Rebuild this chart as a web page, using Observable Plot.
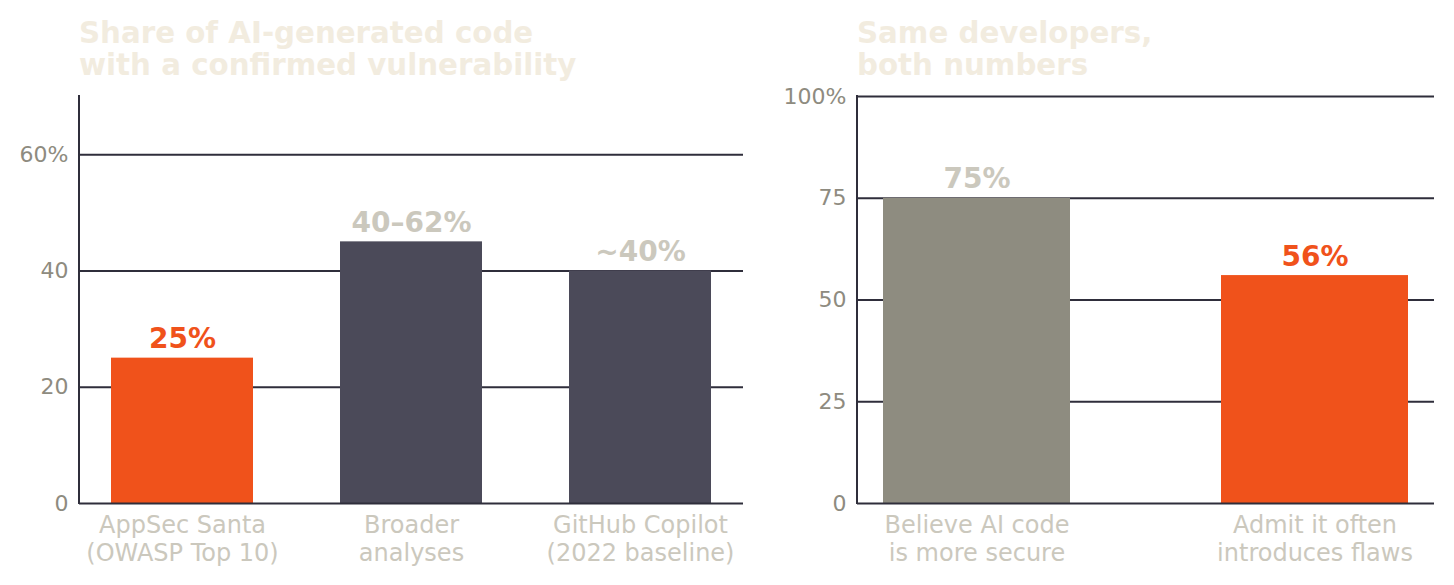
<!DOCTYPE html>
<html>
<head>
<meta charset="utf-8">
<script src="https://cdn.jsdelivr.net/npm/d3@7"></script>
<script src="https://cdn.jsdelivr.net/npm/@observablehq/plot@0.6"></script>
<style>
  html, body { margin: 0; padding: 0; background: #ffffff; }
  body { width: 1454px; height: 585px; overflow: hidden; font-family: "DejaVu Sans", sans-serif; }
  .wrap { position: relative; width: 1454px; height: 585px; }
  .panel { position: absolute; top: 0; }
  .title { font-family: "DejaVu Sans", sans-serif; font-weight: bold; font-size: 29.3px; line-height: 32px;
           color: #F2ECDF; padding-top: 17px; height: 63px; box-sizing: content-box; white-space: nowrap; }
  svg { display: block; }
</style>
</head>
<body>
<div class="wrap">
  <div class="panel" id="left" style="left:0;width:750px;">
    <div class="title" style="padding-left:79px;">Share of AI-generated code<br>with a confirmed vulnerability</div>
  </div>
  <div class="panel" id="right" style="left:750px;width:704px;">
    <div class="title" style="padding-left:107px;">Same developers,<br>both numbers</div>
  </div>
</div>
<script>
// ---- data ----
const leftCategories = ["AppSec Santa\n(OWASP Top 10)", "Broader\nanalyses", "GitHub Copilot\n(2022 baseline)"];
const leftValues = [25, 45, 40];
const leftValueLabels = ["25%", "40–62%", "~40%"];
const leftHighlight = [true, false, false];
const leftTicks = [0, 20, 40, 60];
const leftTickLabels = ["0", "20", "40", "60%"];
const leftGrid = [20, 40, 60];

const rightCategories = ["Believe AI code\nis more secure", "Admit it often\nintroduces flaws"];
const rightValues = [75, 56];
const rightValueLabels = ["75%", "56%"];
const rightHighlight = [false, true];
const rightTicks = [0, 25, 50, 75, 100];
const rightTickLabels = ["0", "25", "50", "75", "100%"];
const rightGrid = [25, 50, 75, 100];

// ---- styles ----
const ORANGE = "#F0521B";
const DARK = "#4B4A59";
const GREY = "#8E8C80";
const GRID = "#2F2E3B";
const TICK = "#8E8B80";
const LIGHT = "#CBC8BD";
const FONT = "DejaVu Sans";

function leftSpine() {
  return (index, scales, values, dimensions) => {
    const {marginLeft, marginTop, height, marginBottom} = dimensions;
    const g = document.createElementNS("http://www.w3.org/2000/svg", "line");
    g.setAttribute("x1", marginLeft); g.setAttribute("x2", marginLeft);
    g.setAttribute("y1", marginTop - 1); g.setAttribute("y2", height - marginBottom + 1);
    g.setAttribute("stroke", GRID); g.setAttribute("stroke-width", 2);
    return g;
  };
}

function makeChart(opts) {
  const rows = opts.categories.map((c, i) => ({
    cat: c, value: opts.values[i], label: opts.labels[i], hi: opts.highlight[i]
  }));
  return Plot.plot({
    width: opts.width,
    height: 505,
    marginTop: 16,
    marginBottom: 82,
    marginLeft: opts.marginLeft,
    marginRight: opts.marginRight,
    style: {fontFamily: FONT, background: "transparent", overflow: "visible"},
    x: {domain: opts.categories, paddingInner: opts.paddingInner, paddingOuter: opts.paddingOuter, label: null},
    y: {domain: opts.yDomain, label: null},
    marks: [
      Plot.ruleY(opts.grid, {stroke: GRID, strokeWidth: 2}),
      Plot.barY(rows, {x: "cat", y: "value", fill: d => d.hi ? ORANGE : opts.baseColor}),
      Plot.ruleY([0], {stroke: GRID, strokeWidth: 2}),
      leftSpine(),
      Plot.axisY({
        ticks: opts.ticks,
        tickFormat: (d) => opts.tickLabels[opts.ticks.indexOf(d)],
        tickSize: 0, tickPadding: 11, fontSize: 22, fill: TICK, label: null
      }),
      Plot.axisX({
        tickSize: 0, tickPadding: 10, fontSize: 24, fill: LIGHT, label: null, lineHeight: 1.167
      }),
      Plot.text(rows, {
        x: "cat", y: "value", text: "label", dy: -10, lineAnchor: "bottom",
        fontSize: 28, fontWeight: "bold",
        fill: d => d.hi ? ORANGE : LIGHT
      })
    ]
  });
}

document.getElementById("left").appendChild(makeChart({
  categories: leftCategories, values: leftValues, labels: leftValueLabels, highlight: leftHighlight,
  ticks: leftTicks, tickLabels: leftTickLabels, grid: leftGrid, yDomain: [0, 70],
  width: 750, marginLeft: 79, marginRight: 7, paddingInner: 0.378, paddingOuter: 0.1325, baseColor: DARK
}));

document.getElementById("right").appendChild(makeChart({
  categories: rightCategories, values: rightValues, labels: rightValueLabels, highlight: rightHighlight,
  ticks: rightTicks, tickLabels: rightTickLabels, grid: rightGrid, yDomain: [0, 100],
  width: 704, marginLeft: 107, marginRight: 20, paddingInner: 0.448, paddingOuter: 0.076, baseColor: GREY
}));
</script>
</body>
</html>
